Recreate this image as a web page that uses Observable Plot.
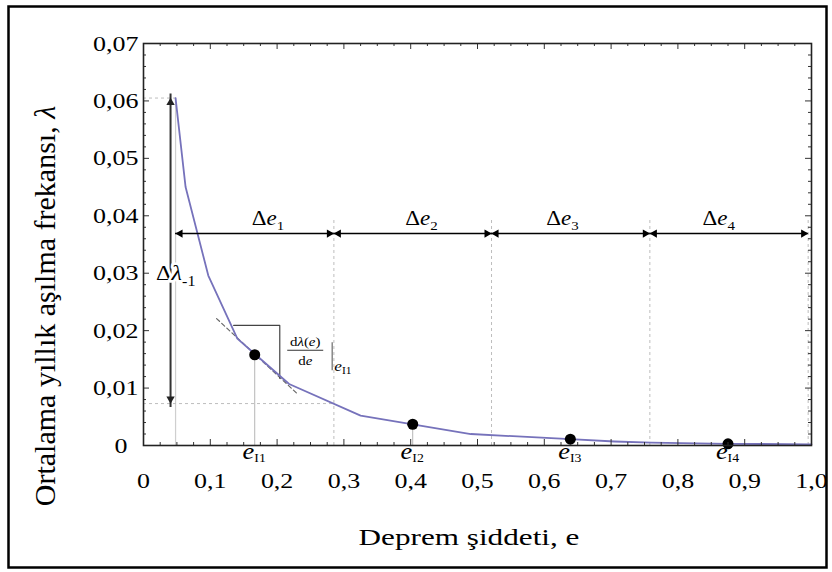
<!DOCTYPE html>
<html><head><meta charset="utf-8">
<script src="https://cdn.jsdelivr.net/npm/d3@7"></script>
<script src="https://cdn.jsdelivr.net/npm/@observablehq/plot@0.6"></script>
<style>
body{margin:0;background:#fff;}
#chart svg{display:block;}
</style></head><body><div id="chart"></div>
<script>
// ---- data ----
const eValues      = [0.048, 0.063, 0.097, 0.1405, 0.218, 0.325, 0.49, 0.639, 0.705, 0.76, 0.875, 1.0];
const lambdaValues = [0.0605, 0.0450, 0.0296, 0.0186, 0.0107, 0.0052, 0.0020, 0.0011, 0.0007, 0.0005, 0.0003, 0.0002];
const eI   = [0.1665, 0.403, 0.639, 0.875];
const lamI = [0.0158, 0.0037, 0.0011, 0.0003];
const eILabels = ["I1", "I2", "I3", "I4"];
const boundaries = [0.048, 0.285, 0.521, 0.758, 0.995];
const deLabels = ["1", "2", "3", "4"];
const deLabelE = [0.187, 0.417, 0.628, 0.862];
const arrowLevel = 0.0369;
const dashTop = 0.0397;
const lamB2 = 0.0073;
const dlE = 0.0405;
const dlLabelLam = 0.0287;
const tangentE = [0.1094, 0.2304];
const tangentLam = [0.0221, 0.0090];
const slopeBoxE = [0.135, 0.204, 0.204];
const slopeBoxLam = [0.0209, 0.0209, 0.0117];
const xTicks = [0, 0.1, 0.2, 0.3, 0.4, 0.5, 0.6, 0.7, 0.8, 0.9, 1.0];
const yTicks = [0, 0.01, 0.02, 0.03, 0.04, 0.05, 0.06, 0.07];
const xMinor = d3.range(0, 41).filter(i => i % 4).map(i => i / 40);
const yMinor = d3.range(0, 36).filter(i => i % 5).map(i => i * 0.002);
const xTitle = "Deprem şiddeti, e";
const yTitle = "Ortalama yıllık aşılma frekansı, ";

// ---- layout ----
const FONT = "'Liberation Serif','Times New Roman',serif";
const W = 832, H = 572, mL = 143, mR = 21, mT = 43, mB = 127;
const pw = W - mL - mR, ph = H - mT - mB;
const curve = eValues.map((e, i) => ({e, lam: lambdaValues[i]}));
const pts = eI.map((e, i) => ({e, lam: lamI[i], lab: eILabels[i]}));
const intervals = boundaries.slice(0, -1).map((b, i) => ({x1: b, x2: boundaries[i + 1]}));
const tangent = tangentE.map((e, i) => ({e, lam: tangentLam[i]}));
const slopeBox = slopeBoxE.map((e, i) => ({e, lam: slopeBoxLam[i]}));
const fmtX = d => d === 0 ? "0" : d.toFixed(1).replace(".", ",");
const fmtY = d => d.toFixed(2).replace(".", ",");
const tickC = "#333";

const plot = Plot.plot({
  width: W, height: H,
  marginLeft: mL, marginRight: mR, marginTop: mT, marginBottom: mB,
  x: {domain: [0, 1]},
  y: {domain: [0, 0.07]},
  style: {fontFamily: FONT, background: "transparent", color: "black"},
  marks: [
    Plot.ruleX([boundaries[0]], {y1: 0, y2: lambdaValues[0], stroke: "#cfcfcf", strokeWidth: 1.2}),
    Plot.ruleX(boundaries.slice(1), {y1: 0, y2: dashTop, stroke: "#bdbdbd", strokeDasharray: "3,3"}),
    Plot.ruleY([lambdaValues[0]], {x1: 0, x2: boundaries[0], stroke: "#bdbdbd", strokeDasharray: "3,3"}),
    Plot.ruleY([lamB2], {x1: 0, x2: boundaries[1], stroke: "#bdbdbd", strokeDasharray: "3,3"}),
    Plot.ruleX(pts, {x: "e", y1: 0, y2: "lam", stroke: "#b5b5b5"}),
    Plot.line(tangent, {x: "e", y: "lam", stroke: "#666", strokeDasharray: "4,3", strokeWidth: 1.2}),
    Plot.line(slopeBox, {x: "e", y: "lam", stroke: "#444", strokeWidth: 1.2}),
    Plot.line(curve, {x: "e", y: "lam", stroke: "#7672bb", strokeWidth: 1.8}),
    Plot.dot(pts, {x: "e", y: "lam", r: 5.5, fill: "black"}),
    // horizontal double arrows
    Plot.ruleY(intervals, {x1: "x1", x2: "x2", y: arrowLevel, stroke: "black", strokeWidth: 1.5}),
    Plot.dot(intervals, {x: "x1", y: arrowLevel, symbol: "triangle", r: 3.1, fill: "black", rotate: -90, dx: 4.6}),
    Plot.dot(intervals, {x: "x2", y: arrowLevel, symbol: "triangle", r: 3.1, fill: "black", rotate: 90, dx: -4.6}),
    // vertical double arrow
    Plot.ruleX([dlE], {y1: lamB2, y2: lambdaValues[0], stroke: "#333", strokeWidth: 2, insetTop: 4, insetBottom: 4}),
    Plot.dot([dlE], {x: d => d, y: lambdaValues[0], symbol: "triangle", r: 3.1, fill: "#222", dy: 4.6}),
    Plot.dot([dlE], {x: d => d, y: lamB2, symbol: "triangle", r: 3.1, fill: "#222", rotate: 180, dy: -4.6}),
    // inward ticks on all four sides
    Plot.tickX(xTicks, {x: d => d, insetTop: ph - 6, stroke: tickC}),
    Plot.tickX(xTicks, {x: d => d, insetBottom: ph - 6, stroke: tickC}),
    Plot.tickX(xMinor, {x: d => d, insetTop: ph - 3, stroke: tickC}),
    Plot.tickX(xMinor, {x: d => d, insetBottom: ph - 3, stroke: tickC}),
    Plot.tickY(yTicks, {y: d => d, insetRight: pw - 6, stroke: tickC}),
    Plot.tickY(yTicks, {y: d => d, insetLeft: pw - 6, stroke: tickC}),
    Plot.tickY(yMinor, {y: d => d, insetRight: pw - 3, stroke: tickC}),
    Plot.tickY(yMinor, {y: d => d, insetLeft: pw - 3, stroke: tickC}),
    Plot.frame({stroke: "#222", strokeWidth: 1.6}),
    Plot.axisX({ticks: xTicks, tickSize: 0, tickPadding: 27, tickFormat: fmtX, fontSize: 22, label: null}),
    Plot.axisY({ticks: yTicks.slice(1), tickSize: 0, tickPadding: 5, tickFormat: fmtY, fontSize: 22, label: null}),
    Plot.axisY({ticks: [0], tickSize: 0, tickPadding: 16, tickFormat: () => "0", fontSize: 22, label: null})
  ]
});
document.getElementById("chart").appendChild(plot);

// widen tick labels horizontally (reference text is horizontally stretched)
d3.select(plot).selectAll("text").each(function () {
  const t = this.getAttribute("transform") || "";
  const x = parseFloat(this.getAttribute("x")) || 0;
  this.setAttribute("transform", `${t} translate(${x},0) scale(1.18,1) translate(${-x},0)`);
});

const sx = plot.scale("x").apply, sy = plot.scale("y").apply;
const g = d3.select(plot).append("g").attr("font-family", FONT).attr("fill", "black");

function rich(x, y, parts, {size = 20, anchor = "middle", stretch = 1.15, rotate = 0, halo = false} = {}) {
  const t = g.append("text")
    .attr("transform", `translate(${x},${y})${rotate ? ` rotate(${rotate})` : ""} scale(${stretch},1)`)
    .attr("text-anchor", anchor).attr("font-size", size);
  if (halo) t.attr("stroke", "white").attr("stroke-width", 5).attr("paint-order", "stroke").attr("stroke-linejoin", "round");
  for (const p of parts) {
    const ts = t.append("tspan").text(p.t);
    if (p.i) ts.attr("font-style", "italic");
    if (p.sub) ts.attr("font-size", p.sub).attr("dy", p.dy || 5);
  }
  return t;
}

// Δe labels
intervals.forEach((d, i) => {
  rich(sx(deLabelE[i]), sy(arrowLevel) - 8, [{t: "Δ"}, {t: "e", i: true}, {t: deLabels[i], sub: 13, dy: 5}], {size: 20});
});
// Δλ label
rich(sx(dlE) - 14, sy(dlLabelLam), [{t: "Δ"}, {t: "λ", i: true}, {t: "-1", sub: 14, dy: 6}], {size: 21, anchor: "start", halo: true});
// e_I labels under the axis
pts.forEach(d => {
  rich(sx(d.e), sy(0) + 14, [{t: "e", i: true}, {t: d.lab, sub: 12, dy: 3}], {size: 23});
});
// derivative label next to e_I1
const px = sx(eI[0]), py = sy(lamI[0]);
rich(px + 51, py - 8, [{t: "d"}, {t: "λ", i: true}, {t: "("}, {t: "e", i: true}, {t: ")"}], {size: 13});
g.append("line").attr("x1", px + 33).attr("x2", px + 69).attr("y1", py - 4).attr("y2", py - 4).attr("stroke", "#333").attr("stroke-width", 1);
rich(px + 51, py + 11, [{t: "d"}, {t: "e", i: true}], {size: 13});
g.append("line").attr("x1", px + 78).attr("x2", px + 78).attr("y1", py - 12).attr("y2", py + 16).attr("stroke", "#888").attr("stroke-width", 1.5);
rich(px + 80, py + 17, [{t: "e", i: true}, {t: "I1", sub: 10, dy: 3}], {size: 15, anchor: "start"});

// axis titles
rich(469, 545, [{t: xTitle}], {size: 24, stretch: 1.3});
rich(55, 306, [{t: yTitle}, {t: "λ", i: true}], {size: 30, stretch: 1, rotate: -90});

// outer border
d3.select(plot).append("rect").attr("x", 8.5).attr("y", 6.5).attr("width", 818).attr("height", 561)
  .attr("fill", "none").attr("stroke", "black").attr("stroke-width", 2.5);
</script></body></html>
